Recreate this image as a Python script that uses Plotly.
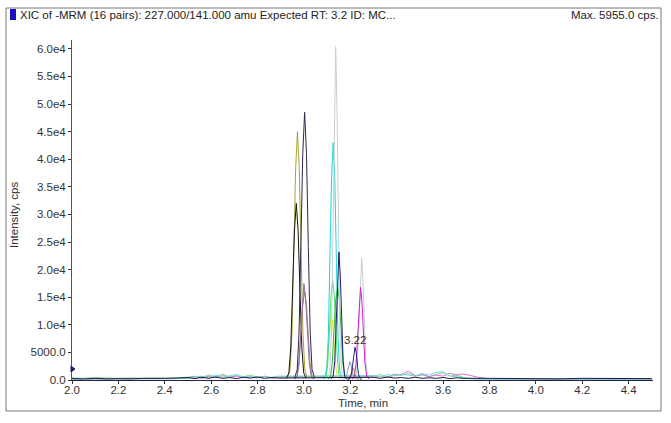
import plotly.graph_objects as go

# ---------------- data ----------------
x_tick_vals = [2.0, 2.2, 2.4, 2.6, 2.8, 3.0, 3.2, 3.4, 3.6, 3.8, 4.0, 4.2, 4.4]
x_tick_text = ["2.0", "2.2", "2.4", "2.6", "2.8", "3.0", "3.2", "3.4", "3.6", "3.8", "4.0", "4.2", "4.4"]
y_tick_vals = [0, 5000, 10000, 15000, 20000, 25000, 30000, 35000, 40000, 45000, 50000, 55000, 60000]
y_tick_text = ["0.0", "5000.0", "1.0e4", "1.5e4", "2.0e4", "2.5e4", "3.0e4", "3.5e4",
               "4.0e4", "4.5e4", "5.0e4", "5.5e4", "6.0e4"]

t_olive = [2.930, 2.940, 2.948, 2.956, 2.964, 2.972, 2.980, 2.988, 2.996, 3.004, 3.014]
i_olive = [450, 1800, 8100, 22500, 38000, 45000, 38000, 22500, 8100, 1800, 450]

t_darkpurple = [2.961, 2.971, 2.979, 2.987, 2.995, 3.003, 3.011, 3.019, 3.027, 3.035, 3.045]
i_darkpurple = [500, 1900, 8700, 24000, 41000, 48500, 41000, 24000, 8700, 1900, 500]

t_black = [2.925, 2.935, 2.943, 2.951, 2.959, 2.967, 2.975, 2.983, 2.991, 2.999, 3.009]
i_black = [320, 1300, 5800, 16000, 27000, 32000, 27000, 16000, 5800, 1300, 320]

t_tan = [2.961, 2.971, 2.979, 2.987, 2.995, 3.003, 3.011, 3.019, 3.027, 3.035, 3.045]
i_tan = [160, 640, 2900, 8000, 13600, 16000, 13600, 8000, 2900, 640, 160]

t_mauve = [2.960, 2.970, 2.978, 2.986, 2.993, 3.000, 3.007, 3.015, 3.023, 3.031, 3.041]
i_mauve = [170, 700, 3100, 8700, 14800, 17500, 14800, 8700, 3100, 700, 170]

t_cyan = [3.088, 3.098, 3.105, 3.112, 3.119, 3.126, 3.133, 3.140, 3.147, 3.154, 3.164]
i_cyan = [430, 1700, 7700, 21500, 36500, 43000, 36500, 21500, 7700, 1700, 430]

t_silver = [3.104, 3.112, 3.119, 3.125, 3.131, 3.137, 3.143, 3.149, 3.155, 3.162, 3.170,
            3.216, 3.224, 3.231, 3.237, 3.243, 3.249, 3.255, 3.261, 3.267, 3.274, 3.282]
i_silver = [300, 1800, 9000, 27000, 48000, 60400, 48000, 27000, 9000, 1800, 300,
            200, 660, 3300, 9900, 17700, 22100, 17700, 9900, 3300, 660, 200]

t_navy = [3.118, 3.126, 3.133, 3.139, 3.145, 3.151, 3.157, 3.163, 3.169, 3.176, 3.184]
i_navy = [230, 700, 3500, 10400, 18600, 23200, 18600, 10400, 3500, 700, 230]

t_green = [3.105, 3.115, 3.122, 3.129, 3.137, 3.145, 3.153, 3.161, 3.168, 3.175, 3.185]
i_green = [170, 680, 3000, 8500, 14500, 17000, 14500, 8500, 3000, 680, 170]

t_lime = [3.087, 3.096, 3.103, 3.110, 3.117, 3.124, 3.131, 3.138, 3.145, 3.152, 3.162]
i_lime = [180, 720, 3200, 9000, 15300, 18000, 15300, 9000, 3200, 720, 180]

t_yellow = [3.082, 3.091, 3.098, 3.105, 3.112, 3.118, 3.124, 3.131, 3.138, 3.145, 3.154]
i_yellow = [120, 480, 2200, 6000, 10200, 12000, 10200, 6000, 2200, 480, 120]

t_magenta = [3.208, 3.217, 3.225, 3.232, 3.238, 3.244, 3.250, 3.256, 3.263, 3.271, 3.280]
i_magenta = [170, 670, 3000, 8400, 14300, 16800, 14300, 8400, 3000, 670, 170]

t_selected = [3.190, 3.198, 3.205, 3.210, 3.215, 3.220, 3.225, 3.230, 3.235, 3.242, 3.250]
i_selected = [100, 240, 1070, 2980, 5060, 5955, 5060, 2980, 1070, 240, 100]

t_gray = [3.170, 3.180, 3.188, 3.193, 3.198, 3.203, 3.208, 3.216, 3.226]
i_gray = [100, 400, 1500, 2800, 3300, 2800, 1500, 400, 100]

t_brown = [3.185, 3.195, 3.202, 3.207, 3.211, 3.215, 3.220, 3.228, 3.238]
i_brown = [80, 300, 1000, 1900, 2200, 1900, 1000, 300, 80]

t_noise = [2.00, 2.05, 2.10, 2.15, 2.20, 2.25, 2.30, 2.35, 2.40, 2.45, 2.50, 2.53, 2.56, 2.59,
           2.62, 2.65, 2.68, 2.71, 2.74, 2.77, 2.80, 2.83, 2.86, 2.89,
           3.30, 3.33, 3.36, 3.39, 3.42, 3.45, 3.48, 3.51, 3.54, 3.57, 3.60, 3.63, 3.66,
           3.69, 3.72, 3.75, 3.80, 3.90, 4.00, 4.10, 4.20, 4.30, 4.40, 4.50]
i_noise_black = [250, 200, 300, 200, 250, 200, 300, 250, 300, 350, 450, 250, 500, 300,
                 550, 300, 450, 250, 500, 350, 550, 300, 450, 350,
                 500, 300, 550, 350, 450, 300, 500, 300, 400, 300, 450, 250, 400,
                 300, 350, 300, 300, 250, 300, 200, 300, 250, 300, 250]
i_noise_green = [400, 300, 450, 350, 300, 400, 300, 350, 300, 400, 500, 700, 450, 900,
                 600, 1100, 500, 800, 600, 900, 500, 700, 400, 600,
                 700, 1000, 600, 1100, 800, 1200, 700, 900, 600, 1000, 1300, 700, 900,
                 400, 250, 200, 200, 200, 200, 200, 200, 200, 200, 200]
i_noise_pink = [150, 150, 150, 150, 150, 150, 150, 150, 200, 250, 400, 600, 300, 700,
                400, 800, 500, 700, 400, 600, 350, 650, 300, 500,
                500, 700, 400, 900, 1000, 1600, 800, 1000, 600, 900, 700, 1200, 900,
                1100, 800, 500, 200, 150, 150, 150, 150, 150, 150, 150]
i_noise_cyan = [150, 150, 150, 150, 150, 150, 150, 150, 200, 250, 300, 500, 700, 400,
                900, 500, 700, 1000, 500, 700, 400, 600, 500, 700,
                800, 600, 1000, 700, 1100, 900, 700, 1200, 900, 1400, 1500, 700, 600,
                300, 200, 150, 150, 150, 150, 150, 150, 150, 150, 150]

series = [
    (t_noise, i_noise_green, "#7ee07e"),
    (t_noise, i_noise_pink, "#e070e0"),
    (t_noise, i_noise_cyan, "#70d8e0"),
    (t_olive, i_olive, "#a8a23a"),
    (t_black, i_black, "#151515"),
    (t_tan, i_tan, "#a8845a"),
    (t_mauve, i_mauve, "#9a6aa8"),
    (t_darkpurple, i_darkpurple, "#2e2850"),
    (t_yellow, i_yellow, "#e6e040"),
    (t_lime, i_lime, "#50e070"),
    (t_green, i_green, "#30b830"),
    (t_cyan, i_cyan, "#20d4d8"),
    (t_silver, i_silver, "#c4d0d6"),
    (t_navy, i_navy, "#1c1c6a"),
    (t_magenta, i_magenta, "#d020c8"),
    (t_gray, i_gray, "#8898a8"),
    (t_brown, i_brown, "#b07840"),
    (t_selected, i_selected, "#2a2a8a"),
    (t_noise, i_noise_black, "#1a1a3a"),
]

fig = go.Figure()
for t, v, c in series:
    fig.add_trace(go.Scatter(x=t, y=v, mode="lines", line=dict(color=c, width=1),
                             hoverinfo="skip", showlegend=False))

# plot geometry: left 72, right 653, top 40, bottom 380 (pixels)
L, R, T, B = 72, 653, 40, 380
W, H = R - L, B - T


def px(x):
    return (x - L) / W


def py(y):
    return (B - y) / H


font = "Liberation Sans, Arial, sans-serif"
FS = 11.5

fig.update_layout(
    width=671, height=423,
    margin=dict(l=L, r=671 - R, t=T, b=423 - B, pad=0),
    paper_bgcolor="white", plot_bgcolor="white",
    font=dict(family=font, size=FS, color="#333333"),
    xaxis=dict(range=[2.0, 4.505], tickvals=x_tick_vals, ticktext=x_tick_text,
               showgrid=False, zeroline=False, showline=True, linecolor="#222244",
               linewidth=1, ticks="outside", ticklen=3, tickcolor="#333333",
               ticklabelstandoff=-4,
               tickfont=dict(size=FS, color="#333333")),
    yaxis=dict(range=[0, 61600], tickvals=y_tick_vals, ticktext=y_tick_text,
               showgrid=False, zeroline=False, showline=True, linecolor="#555555",
               linewidth=1, ticks="outside", ticklen=3, tickcolor="#333333",
               tickfont=dict(size=FS, color="#333333")),
    shapes=[
        dict(type="rect", xref="paper", yref="paper", x0=px(6), x1=px(661), y0=py(411), y1=py(8),
             line=dict(color="#777777", width=1), fillcolor="rgba(0,0,0,0)", layer="below"),
        dict(type="rect", xref="paper", yref="paper", x0=px(10), x1=px(16), y0=py(20), y1=py(9),
             line=dict(color="#1a10c0", width=0), fillcolor="#1a10c0"),
        dict(type="path", xref="paper", yref="paper",
             path=f"M {px(71)} {py(366)} L {px(75)} {py(369)} L {px(71)} {py(372)} Z",
             line=dict(color="#20206a", width=1), fillcolor="#20206a"),
    ],
    annotations=[
        dict(text="XIC of -MRM (16 pairs): 227.000/141.000 amu Expected RT: 3.2 ID: MC...",
             xref="paper", yref="paper", x=px(18), y=py(15), xanchor="left", yanchor="middle",
             showarrow=False, font=dict(size=FS, color="#222222")),
        dict(text="Max. 5955.0 cps.", xref="paper", yref="paper", x=px(661), y=py(15),
             xanchor="right", yanchor="middle", showarrow=False,
             font=dict(size=FS, color="#222222")),
        dict(text="Intensity, cps", xref="paper", yref="paper", x=px(14), y=py(215),
             textangle=-90, xanchor="center", yanchor="middle", showarrow=False,
             font=dict(size=FS, color="#333333")),
        dict(text="Time, min", xref="paper", yref="paper", x=px(363), y=py(403),
             xanchor="center", yanchor="middle", showarrow=False,
             font=dict(size=FS, color="#333333")),
        dict(text="3.22", x=3.222, y=7200, xref="x", yref="y", xanchor="center",
             yanchor="middle", showarrow=False, font=dict(size=FS, color="#333333")),
    ],
)

fig.write_html("out.html", config={"displayModeBar": False},
               post_script="document.body.style.margin='0';")
